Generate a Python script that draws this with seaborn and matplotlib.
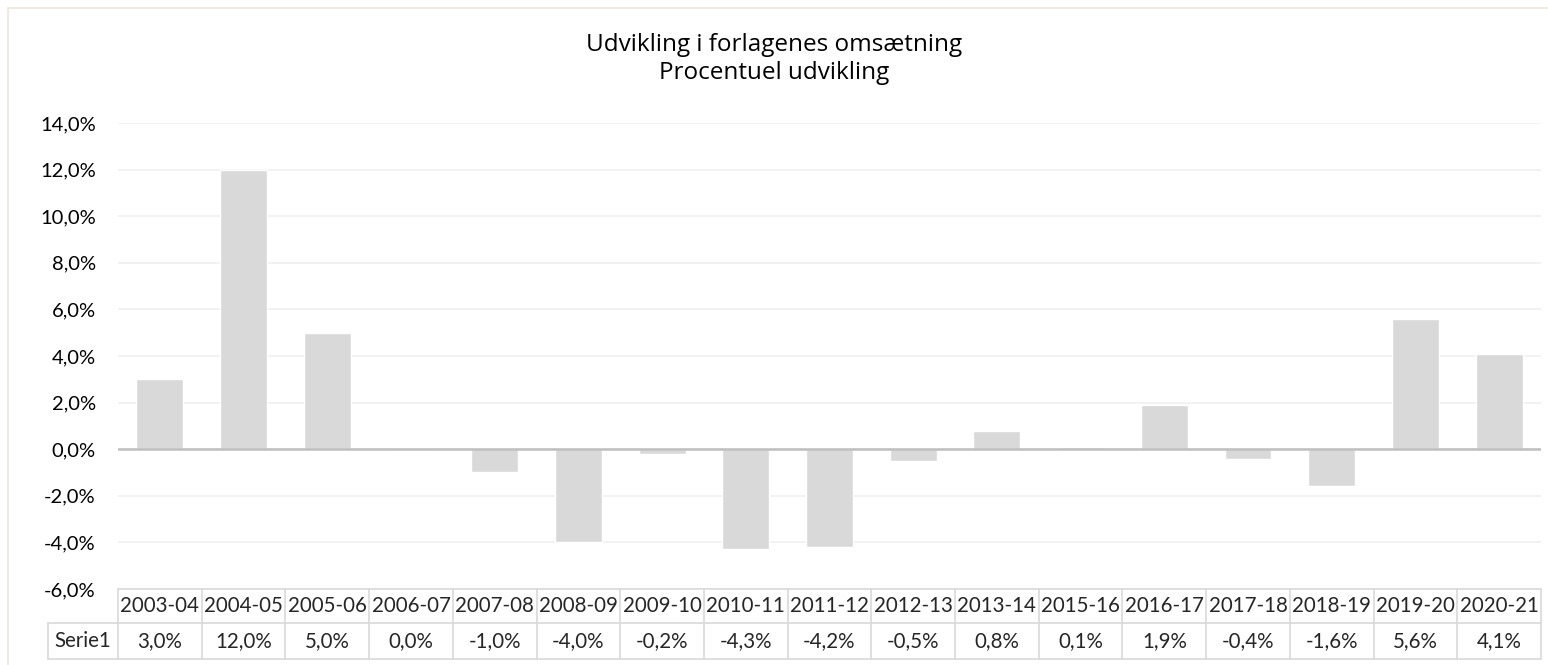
import matplotlib
matplotlib.use('Agg')
import matplotlib.pyplot as plt
import matplotlib.transforms as mtransforms
from matplotlib.patches import Rectangle
import pandas as pd
import seaborn as sns

# Data (percent)
periods = ['2003-04', '2004-05', '2005-06', '2006-07', '2007-08', '2008-09',
           '2009-10', '2010-11', '2011-12', '2012-13', '2013-14', '2015-16',
           '2016-17', '2017-18', '2018-19', '2019-20', '2020-21']
growth = [3.0, 12.0, 5.0, 0.0, -1.0, -4.0, -0.2, -4.3, -4.2, -0.5, 0.8, 0.1,
          1.9, -0.4, -1.6, 5.6, 4.1]
series_name = 'Serie1'
title_lines = ['Udvikling i forlagenes omsætning', 'Procentuel udvikling']
y_ticks = [-6, -4, -2, 0, 2, 4, 6, 8, 10, 12, 14]

df = pd.DataFrame({'Periode': periods, 'Vaekst': growth})

sns.set_style('white')
plt.rcParams['font.family'] = ['Lato', 'DejaVu Sans']

W, H = 1548, 665
fig = plt.figure(figsize=(W / 100, H / 100), dpi=100)

# chart border (Excel style)
fig.patches.append(Rectangle((8 / W, -0.05), 1.0, 1 - 8 / H + 0.05,
                             transform=fig.transFigure, fill=False,
                             edgecolor='#ebe7de', lw=1.2))

left, right, top, bottom = 118, 1541, 123, 589
ax = fig.add_axes([left / W, 1 - bottom / H, (right - left) / W, (bottom - top) / H])

sns.barplot(data=df, x='Periode', y='Vaekst', color='#d9d9d9', width=0.56,
            saturation=1, ax=ax, zorder=3)

ax.set_xlim(-0.5, len(periods) - 0.5)
ax.set_ylim(-6, 14)
ax.set_yticks(y_ticks)
ax.set_yticklabels([f'{t:.1f}%'.replace('.', ',') for t in y_ticks], fontsize=14.5, color='#000000')
ax.set_xticks([])
ax.set_xlabel('')
ax.set_ylabel('')
ax.tick_params(axis='y', length=0, pad=16)
for s in ax.spines.values():
    s.set_visible(False)
ax.grid(axis='y', color='#f0f0f0', lw=1.2, zorder=0)
ax.axhline(0, color='#bfbfbf', lw=1.8, zorder=4)

# title
title_font = ['Open Sans', 'DejaVu Sans']
fig.text(0.5, 1 - 45 / H, title_lines[0], ha='center', va='center', fontsize=17.5,
         color='#000000', family=title_font)
fig.text(0.5, 1 - 73 / H, title_lines[1], ha='center', va='center', fontsize=17.5,
         color='#000000', family=title_font)

# data table below the axis
trans = mtransforms.blended_transform_factory(ax.transData, ax.transAxes)
ah = bottom - top
r1 = -34 / ah
r2 = -70 / ah
lab_w = 70 / ((right - left) / len(periods))
x0 = -0.5
x1 = len(periods) - 0.5
lc = '#d9d9d9'
kw = dict(transform=trans, color=lc, lw=1.2, clip_on=False)
ax.plot([x0, x1], [0, 0], **kw)
ax.plot([x0 - lab_w, x1], [r1, r1], **kw)
ax.plot([x0 - lab_w, x1], [r2, r2], **kw)
for i in range(len(periods) + 1):
    ax.plot([i - 0.5, i - 0.5], [0, r2], **kw)
ax.plot([x0 - lab_w, x0 - lab_w], [r1, r2], **kw)

for i, (p, v) in enumerate(zip(periods, growth)):
    ax.text(i, r1 / 2, p, transform=trans, ha='center', va='center', fontsize=14.8, clip_on=False)
    ax.text(i, (r1 + r2) / 2, f'{v:.1f}%'.replace('.', ','), transform=trans,
            ha='center', va='center', fontsize=14.8, clip_on=False)
ax.text(x0 - lab_w / 2, (r1 + r2) / 2, series_name, transform=trans,
        ha='center', va='center', fontsize=14.8, clip_on=False)

fig.savefig('out.png', dpi=100, facecolor='white')
